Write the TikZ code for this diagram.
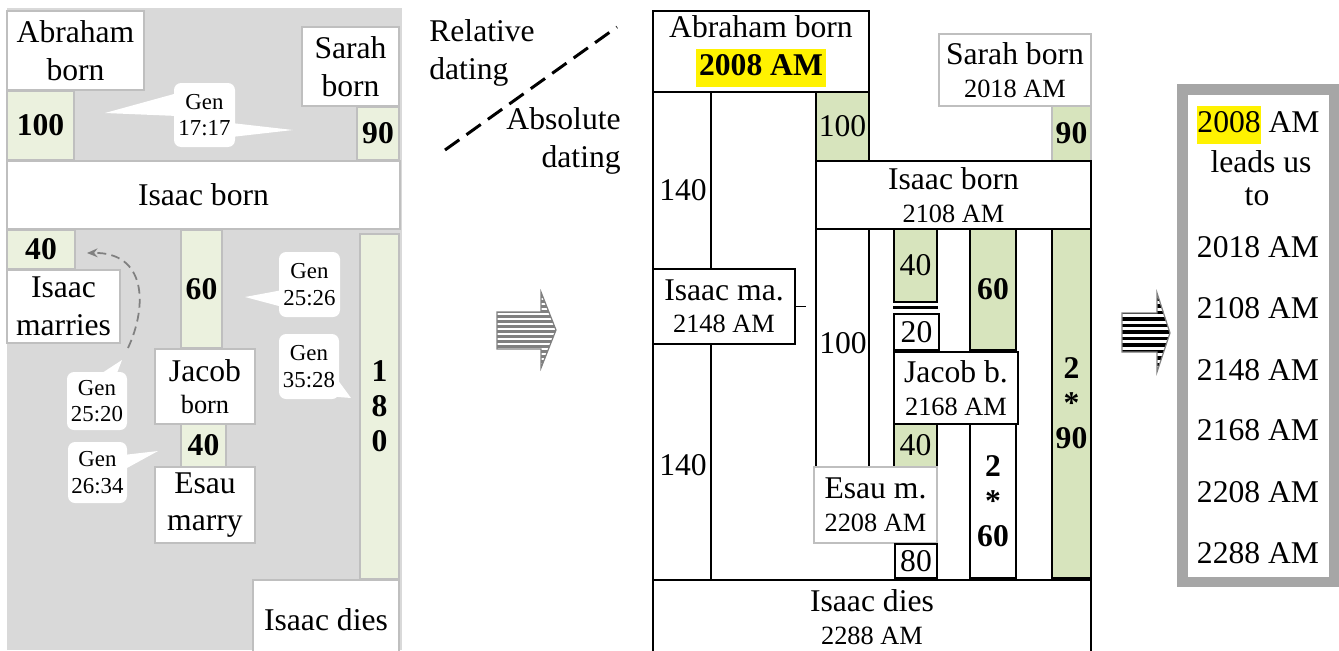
\documentclass[tikz,border=0pt]{standalone}
\usepackage{fontspec}
\setmainfont{Liberation Serif}
\usetikzlibrary{positioning, calc, arrows.meta}
\definecolor{bggray}{RGB}{217,217,217}
\definecolor{linegray}{RGB}{191,191,191}
\definecolor{palegreen}{RGB}{235,241,222}
\definecolor{sagegreen}{RGB}{215,228,189}
\definecolor{framegray}{RGB}{166,166,166}
\definecolor{arrowgray}{RGB}{128,128,128}
\newcommand{\fBig}{\fontsize{18}{21.5}\selectfont}
\newcommand{\fTwo}{\fontsize{18}{18.5}\selectfont}
\newcommand{\fMid}{\fontsize{15}{18.5}\selectfont}
\newcommand{\fGen}{\fontsize{13}{15}\selectfont}
\newcommand{\hlbox}[2][0pt]{{\setlength{\fboxsep}{0pt}\colorbox{yellow}{\kern#1\strut #2\kern#1}}}

\begin{document}
\begin{tikzpicture}[
        x=0.02cm, y=-0.02cm,
        sz/.style 2 args={minimum width=#1*0.02cm, minimum height=#2*0.02cm},
        lbox/.style={rectangle, draw=linegray, line width=1pt, fill=white,
                     inner sep=0pt, align=center, font=\fBig},
        lgreen/.style={lbox, fill=palegreen, font=\fBig\bfseries},
        mbox/.style={rectangle, draw=black, line width=0.9pt, fill=white,
                     inner sep=0pt, align=center, font=\fBig},
        mgreen/.style={mbox, fill=sagegreen},
        twoline/.style={font=\fTwo},
        gennote/.style={rectangle, fill=white, rounded corners=4pt,
                        inner sep=0pt, align=center, font=\fGen},
        pointer/.style={fill=white},
        stack/.style={font=\fontsize{18}{20}\selectfont\bfseries},
        plain/.style={inner sep=0pt, font=\fBig},
        mline/.style={draw=black, line width=0.9pt},
        dashArrow/.style={-{Stealth[length=6pt, width=5pt]}, arrowgray,
                          line width=1pt, dash pattern=on 5pt off 3pt},
    ]
    \useasboundingbox (0,0) rectangle (1339,650);

    % ===== Left panel: relative dating =====
    \fill[bggray] (7,8) rectangle (402,650);

    \node[lbox, sz={137}{79}] (lAbraham) at (75.5,50.5) {Abraham\\born};
    \node[lgreen, sz={67}{69}] (lHundred) at (40.5,125.5) {100};
    \node[lbox, sz={97}{79}] (lSarah) at (350.5,66.5) {Sarah\\born};
    \node[lgreen, sz={42}{53}] (lNinety) at (378,133.5) {90};
    \node[lbox, sz={393}{68}] (lIsaac) at (203.5,195) {Isaac born};

    \node[lgreen, sz={68}{39}] (lForty) at (41,249.5) {40};
    \node[lbox, sz={113}{73}] (lMarries) at (63.5,306.5) {Isaac\\marries};
    \node[lgreen, sz={41}{118}] (lSixty) at (201.5,289) {60};
    \node[lbox, twoline, sz={100}{75}] (lJacob) at (205,386.5) {Jacob\\{\fMid born}};
    \node[lgreen, sz={45}{43}] (lFortyB) at (203.5,445.5) {40};
    \node[lbox, sz={100}{76}] (lEsau) at (205,505) {Esau\\marry};
    \node[lgreen, sz={39}{345}, stack] (lOneEighty) at (379.5,406.5) {1\\8\\0};
    \node[lbox, sz={146}{80}] (lDies) at (326,620) {Isaac dies};

    % Gen callouts
    \node[gennote, sz={61}{64}] (n1717) at (204.5,115) {Gen\\17:17};
    \coordinate (c1717a) at (105,113);
    \coordinate (c1717b) at (293,130);
    \fill[pointer] ($(n1717.west)+(4,-22)$) -- (c1717a) -- ($(n1717.west)+(4,1)$) -- cycle;
    \fill[pointer] ($(n1717.east)+(-4,8)$) -- (c1717b) -- ($(n1717.east)+(-4,22)$) -- cycle;

    \node[gennote, sz={61}{65}] (n2526) at (309.5,284.5) {Gen\\25:26};
    \coordinate (c2526) at (245,297);
    \fill[pointer] ($(n2526.west)+(4,5.5)$) -- (c2526) -- ($(n2526.west)+(4,22.5)$) -- cycle;

    \node[gennote, sz={60}{65}] (n3528) at (309,366.5) {Gen\\35:28};
    \coordinate (c3528) at (351,398);
    \fill[pointer] ($(n3528.east)+(-3,11.5)$) -- (c3528) -- ($(n3528.south east)+(-9,-3)$) -- cycle;

    \node[gennote, sz={60}{58}] (n2520) at (97,401) {Gen\\25:20};
    \coordinate (c2520) at (122,360);
    \fill[pointer] ($(n2520.north)+(1,4)$) -- (c2520) -- ($(n2520.north)+(19,4)$) -- cycle;

    \node[gennote, sz={59}{61}] (n2634) at (97.5,472.5) {Gen\\26:34};
    \coordinate (c2634) at (158,451);
    \fill[pointer] ($(n2634.east)+(-4,-17.5)$) -- (c2634) -- ($(n2634.east)+(-4,-2.5)$) -- cycle;

    % dashed link Gen 25:20 -> 40
    \coordinate (dashStart) at (128,348);
    \coordinate (dashEnd) at (87,253);
    \draw[dashArrow] (dashStart) .. controls (148,305) and (146,252) .. (dashEnd);

    % ===== Divider: relative / absolute =====
    \node[plain, anchor=west, align=left] (relText) at (429,53) {Relative\\dating};
    \node[plain, anchor=east, align=right] (absText) at (621,141) {Absolute\\dating};
    \draw[line width=1.7pt, dash pattern=on 10pt off 5pt] (445,150) -- (617,27);

    % ===== Striped arrow 1 =====
    \begin{scope}
        \clip (497,312) -- (541,312) -- (541,292) -- (556,330) -- (541,368)
              -- (541,349) -- (497,349) -- cycle;
        \foreach \y in {290,295,...,370} { \fill[arrowgray] (495,\y) rectangle (560,\y+2.5); }
    \end{scope}
    \draw[arrowgray, line width=0.7pt] (497,312) -- (541,312) -- (541,292) -- (556,330)
        -- (541,368) -- (541,349) -- (497,349) -- cycle;

    % ===== Middle panel: absolute dating =====
    \draw[mline] (653,92) -- (653,652);
    \draw[mline] (711,92) -- (711,580);
    \draw[mline] (816,229) -- (816,467);
    \draw[mline] (869,229) -- (869,467);

    \node[mbox, sz={216}{81}] (mAbraham) at (761,51.5)
        {Abraham born\\\hlbox[2pt]{\textbf{2008 AM}}};
    \node[mgreen, sz={53}{69}] (mHundred) at (842.5,126.5) {100};
    \node[mbox, twoline, draw=linegray, sz={152}{72}] (mSarah) at (1015,70) {Sarah born\\{\fMid 2018 AM}};
    \node[mgreen, draw=linegray, sz={39}{55}, font=\fBig\bfseries] (mNinety) at (1071.5,133.5) {90};
    \node[mbox, twoline, sz={275}{68}] (mIsaac) at (953.5,195) {Isaac born\\{\fMid 2108 AM}};

    \node[mgreen, sz={43}{73}] (mFortyA) at (915.5,265.5) {40};
    \draw[black, line width=1.5pt] ($(mFortyA.south west)+(0,5)$) -- ($(mFortyA.south east)+(0,5)$);
    \node[mbox, sz={45}{36}] (mTwenty) at (916.5,332) {20};
    \node[mgreen, sz={46}{121}, font=\fBig\bfseries] (mSixty) at (993,289.5) {60};
    \node[mbox, twoline, sz={124}{72}] (mJacob) at (956,388) {Jacob b.\\{\fMid 2168 AM}};
    \node[mgreen, sz={43}{43}] (mFortyB) at (915.5,445.5) {40};
    \node[mbox, twoline, draw=linegray, line width=1.2pt, sz={123}{76}] (mEsau) at (875.5,505)
        {Esau m.\\{\fMid 2208 AM}};
    \node[mbox, sz={42}{34}] (mEighty) at (916,561) {80};
    \node[mbox, sz={46}{154}, stack] (mTwoSixty) at (993,501) {2\\*\\60};
    \node[mgreen, sz={39}{349}, stack] (mTwoNinety) at (1071.5,403.5) {2\\*\\90};

    \node[mbox, twoline, sz={142}{75}] (mIsaacMa) at (724,306.5) {Isaac ma.\\{\fMid 2148 AM}};
    \draw[mline] (mIsaacMa.east) -- ++(10,0);

    \node[mbox, twoline, sz={438}{74}] (mDies) at (872,617) {Isaac dies\\{\fMid 2288 AM}};

    \node[plain] (m140a) at (683,190) {140};
    \node[plain] (m140b) at (683,465) {140};
    \node[plain] (m100) at (843,343) {100};

    % ===== Striped arrow 2 =====
    \begin{scope}
        \clip (1122,313) -- (1157,313) -- (1157,293) -- (1170,333) -- (1157,372)
              -- (1157,352) -- (1122,352) -- cycle;
        \foreach \y in {291,297.5,...,375} { \fill[black] (1120,\y) rectangle (1175,\y+3.5); }
    \end{scope}
    \draw[arrowgray, line width=0.7pt] (1122,313) -- (1157,313) -- (1157,293) -- (1170,333)
        -- (1157,372) -- (1157,352) -- (1122,352) -- cycle;

    % ===== Right panel: summary =====
    \node[rectangle, draw=framegray, line width=0.21cm, fill=white,
          sz={151.5}{492.5}] (rFrame) at (1258,335.5) {};
    \node[plain] (rStart) at (1258.5,125) {\hlbox{2008} AM};
    \node[plain] (rLeads) at (1261,162) {leads us};
    \node[plain] (rTo) at (1257,197) {to};
    \foreach \yr/\yy [count=\i] in {2018/247, 2108/308, 2148/370, 2168/430, 2208/492, 2288/553} {
        \node[plain] (rYear\i) at (1258,\yy) {\yr~AM};
    }
\end{tikzpicture}
\end{document}
